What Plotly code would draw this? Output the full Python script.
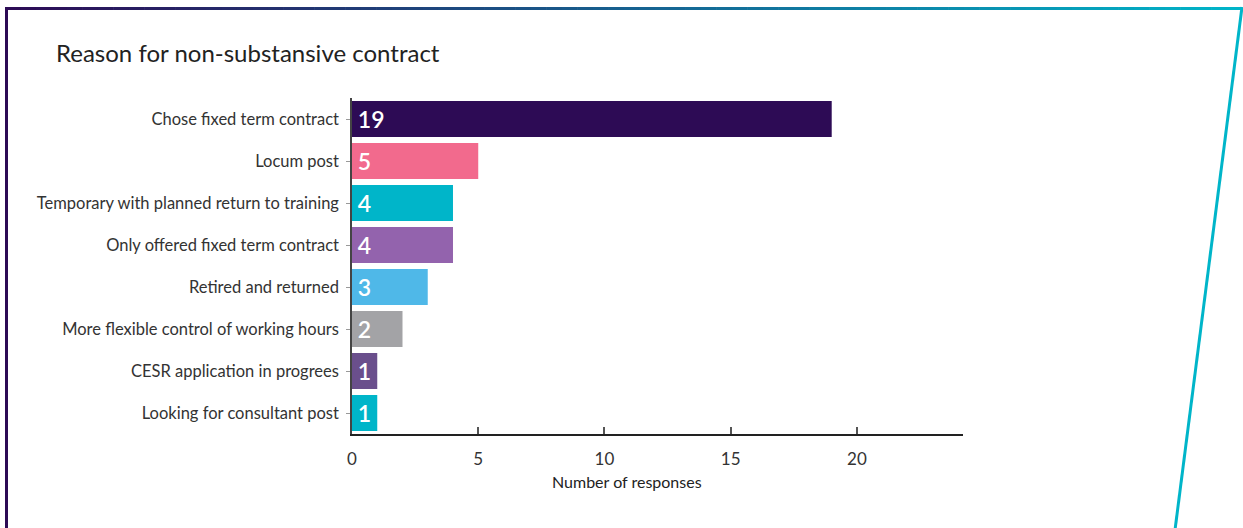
import plotly.graph_objects as go

# Survey results: reasons given for holding a non-substantive contract
reasons = [
    "Chose fixed term contract",
    "Locum post",
    "Temporary with planned return to training",
    "Only offered fixed term contract",
    "Retired and returned",
    "More flexible control of working hours",
    "CESR application in progrees",
    "Looking for consultant post",
]
responses = [19, 5, 4, 4, 3, 2, 1, 1]
bar_colors = ["#2d0b55", "#f26a8d", "#00b5c9", "#9363ad",
              "#4fb8e8", "#a3a3a6", "#6a4f8c", "#00b5c9"]
x_ticks = [0, 5, 10, 15, 20]

W, H = 1243, 528
L, R, T, B = 352, 963, 98, 434  # plot area in pixels


def px(x):
    return (x - L) / (R - L)


def py(y):
    return (B - y) / (B - T)


fig = go.Figure(go.Bar(
    y=reasons,
    x=responses,
    orientation="h",
    marker=dict(color=bar_colors, line=dict(width=0)),
    text=["\u2009" + str(v) for v in responses],
    textposition="inside",
    insidetextanchor="start",
    textfont=dict(color="white", size=23, family="Lato", weight=600),
    cliponaxis=False,
    hoverinfo="skip",
))

shapes = []
# frame: left edge in dark purple
shapes.append(dict(type="rect", xref="paper", yref="paper",
                   x0=px(5), x1=px(8), y0=py(7), y1=py(530),
                   fillcolor="#2d0b55", line=dict(width=0), layer="above"))
# frame: top edge shading from purple to teal
c0 = (45, 11, 85)
c1 = (0, 181, 201)
n = 80
x_start, x_end = 5, 1242
for i in range(n):
    t = (i + 0.5) / n
    col = tuple(round(c0[k] + (c1[k] - c0[k]) * t) for k in range(3))
    xa = x_start + (x_end - x_start) * i / n
    xb = x_start + (x_end - x_start) * (i + 1) / n + 0.6
    shapes.append(dict(type="rect", xref="paper", yref="paper",
                       x0=px(xa), x1=px(xb), y0=py(7), y1=py(10),
                       fillcolor="rgb(%d,%d,%d)" % col, line=dict(width=0),
                       layer="above"))
# frame: slanted right edge
shapes.append(dict(type="line", xref="paper", yref="paper",
                   x0=px(1242), x1=px(1175), y0=py(7), y1=py(530),
                   line=dict(color="#00b5c9", width=3)))

fig.update_layout(
    width=W, height=H,
    margin=dict(l=L, r=W - R, t=T, b=H - B),
    paper_bgcolor="white",
    plot_bgcolor="white",
    bargap=0.14,
    showlegend=False,
    shapes=shapes,
    font=dict(family="Lato", color="#333333"),
    annotations=[
        dict(text="Reason for non-substansive contract",
             xref="paper", yref="paper",
             x=px(54), y=py(52), xanchor="left", yanchor="middle",
             showarrow=False,
             font=dict(size=24, color="#222222", family="Lato")),
        dict(text="Number of responses",
             xref="paper", yref="paper",
             x=px(627), y=py(481), xanchor="center", yanchor="middle",
             showarrow=False,
             font=dict(size=16, color="#222222", family="Lato")),
    ],
    xaxis=dict(
        range=[0, 24.2],
        tickvals=x_ticks,
        ticks="inside", ticklen=7, tickwidth=1.5, tickcolor="#555555",
        showgrid=False, zeroline=False,
        showline=True, linecolor="#222222", linewidth=2,
        tickfont=dict(size=17, color="#333333"),
        ticklabelstandoff=9,
        fixedrange=True,
    ),
    yaxis=dict(
        autorange="reversed",
        ticks="outside", ticklen=4, tickcolor="#999999", tickwidth=1,
        showgrid=False, zeroline=False,
        showline=True, linecolor="#444444", linewidth=1.5,
        tickfont=dict(size=16.5, color="#333333"),
        ticklabelstandoff=4,
        fixedrange=True,
    ),
)

fig.write_html("out.html", config={"displayModeBar": False})
